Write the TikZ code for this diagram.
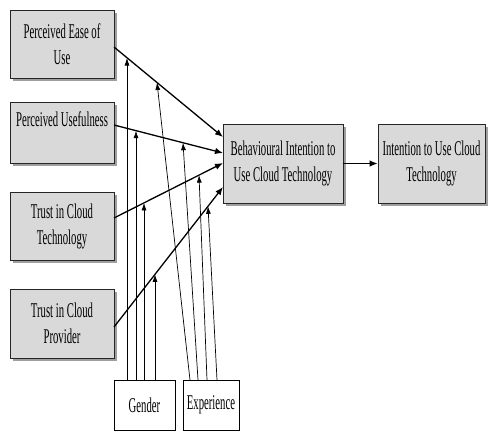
\documentclass[tikz,border=0pt]{standalone}
\usepackage{fontspec}
\newfontfamily\nf[FakeStretch=0.51]{Liberation Serif}
\usetikzlibrary{arrows.meta,shadows,calc}
\begin{document}
\begin{tikzpicture}[x=1pt,y=-1pt,
  txt/.style={font=\fontsize{21}{26}\selectfont\nf, align=center, inner sep=0pt},
  gbox/.style={txt, draw=black!85, line width=0.7pt, fill=gray!30,
     drop shadow={shadow xshift=2.5pt, shadow yshift=-2.5pt, fill=gray!75, opacity=1}},
  wbox/.style={txt, draw=black, line width=0.7pt, fill=white},
  main/.style={line width=1.3pt, -{Latex[length=8pt,width=6.5pt]}},
  mod/.style={line width=0.7pt, -{Latex[length=7.5pt,width=5pt]}}]
\useasboundingbox (0,0) rectangle (489,432);
\node[gbox, minimum width=104pt, minimum height=68pt] (peou) at (62,44) {Perceived Ease of\\Use};
\node[gbox, minimum width=104pt, minimum height=61pt] (pu) at (62,132.5) {Perceived Usefulness\\\mbox{}};
\node[gbox, minimum width=104pt, minimum height=68pt] (tct) at (62,226) {Trust in Cloud\\Technology};
\node[gbox, minimum width=104pt, minimum height=69pt] (tcp) at (62,323.5) {Trust in Cloud\\Provider};
\node[gbox, minimum width=120pt, minimum height=79pt] (bi) at (283,163.5) {Behavioural Intention to\\Use Cloud Technology};
\node[gbox, minimum width=107pt, minimum height=79pt] (itu) at (431.5,163.5) {Intention to Use Cloud\\Technology};
\node[wbox, minimum width=61pt, minimum height=50pt] (gender) at (144.5,405) {Gender};
\node[wbox, minimum width=56pt, minimum height=50pt] (exp) at (211,405) {Experience};

% main arrows
\coordinate (s1) at (114,47);  \coordinate (b1) at (223,137);
\coordinate (s2) at (114,125); \coordinate (b2) at (223,153);
\coordinate (s3) at (114,218); \coordinate (b3) at (223,163);
\coordinate (s4) at (114,327); \coordinate (b4) at (223,187);
\draw[main] (s1) -- (b1);
\draw[main] (s2) -- (b2);
\draw[main] (s3) -- (b3);
\draw[main] (s4) -- (b4);
\draw[main] (bi) -- (itu);

% moderators: gender
\coordinate (g1) at (127,380); \coordinate (t1) at (127,58);
\coordinate (g2) at (136,380); \coordinate (t2) at (136,130.7);
\coordinate (g3) at (144,380); \coordinate (t3) at (144,202.9);
\coordinate (g4) at (155,380); \coordinate (t4) at (155,274.4);
\draw[mod] (g1) -- (t1);
\draw[mod] (g2) -- (t2);
\draw[mod] (g3) -- (t3);
\draw[mod] (g4) -- (t4);
% moderators: experience
\coordinate (e1) at (190,380); \coordinate (u1) at (157,82.5);
\coordinate (e2) at (198,380); \coordinate (u2) at (183,142.7);
\coordinate (e3) at (207,380); \coordinate (u3) at (199,175.1);
\coordinate (e4) at (217,380); \coordinate (u4) at (208,206.3);
\draw[mod] (e1) -- (u1);
\draw[mod] (e2) -- (u2);
\draw[mod] (e3) -- (u3);
\draw[mod] (e4) -- (u4);
\end{tikzpicture}
\end{document}
